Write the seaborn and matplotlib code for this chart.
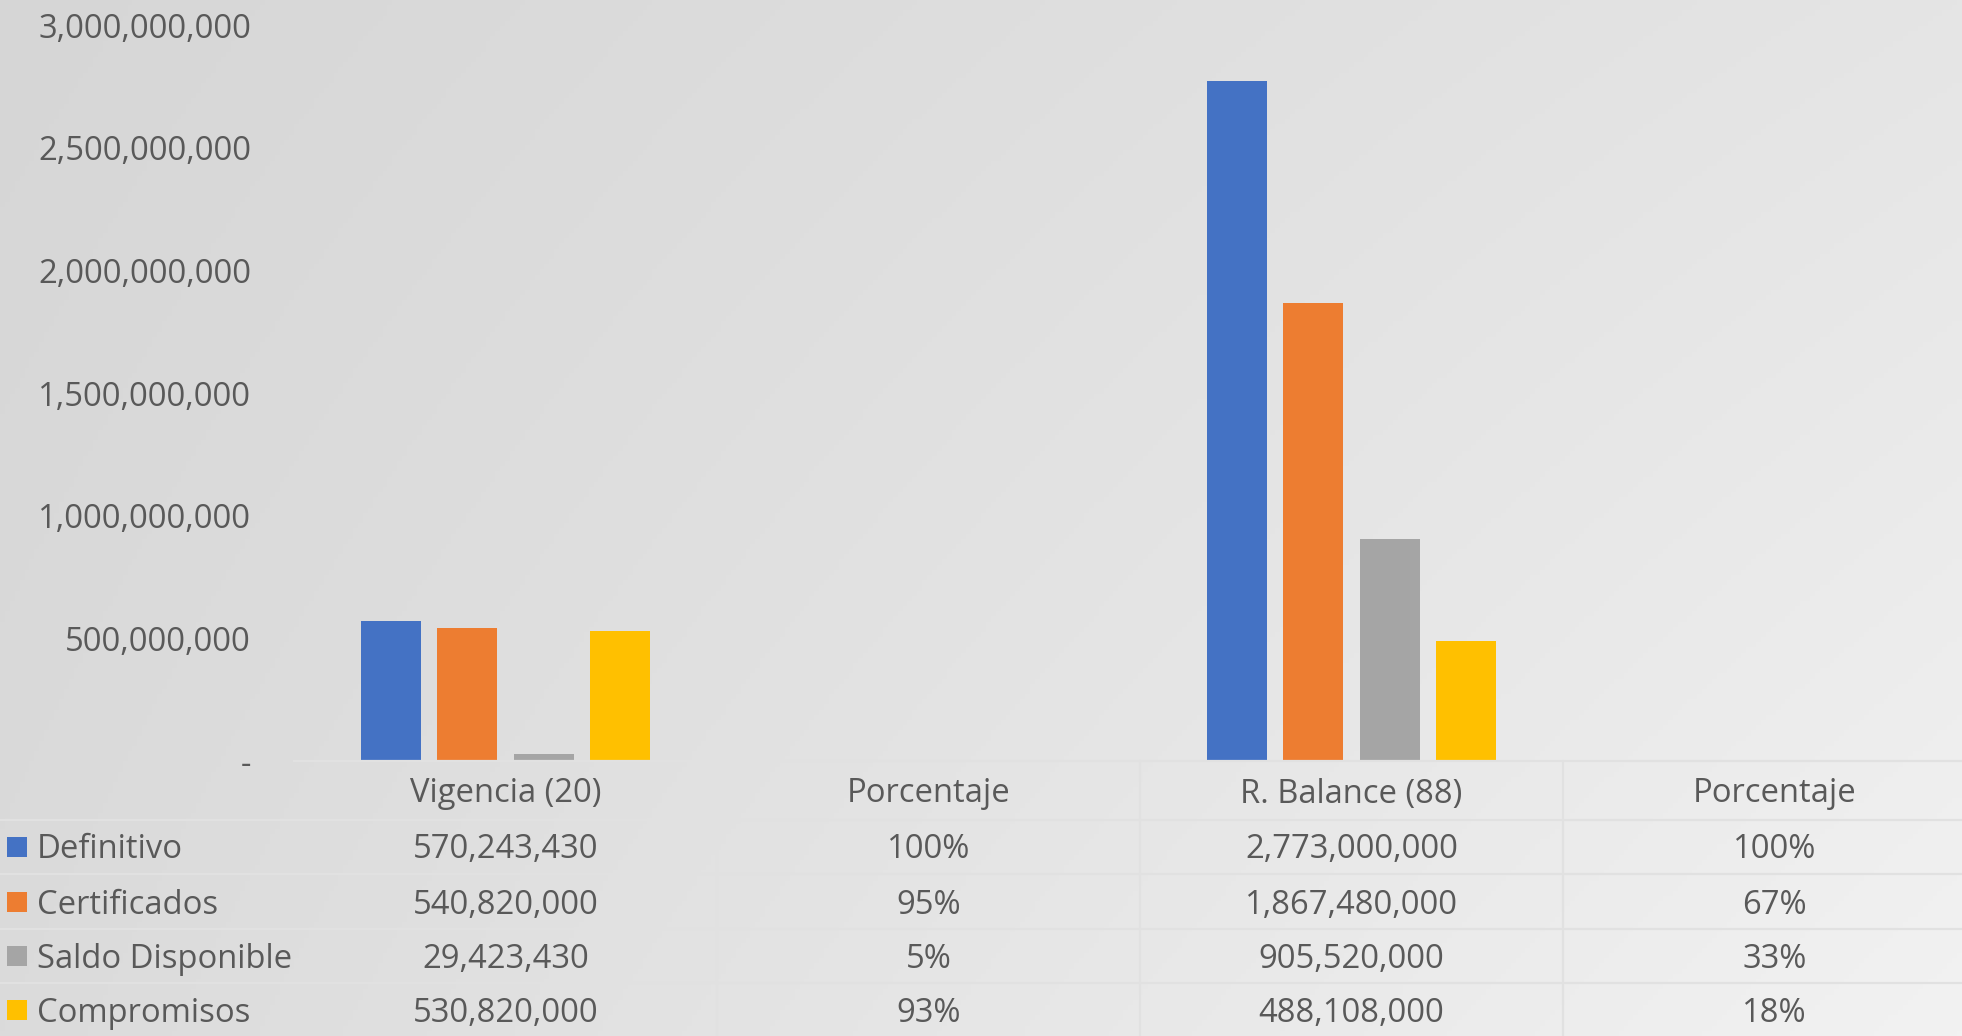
import numpy as np
import pandas as pd
import matplotlib.pyplot as plt
import matplotlib.transforms as mtransforms
from matplotlib.patches import Rectangle
import seaborn as sns

# data
series = ['Definitivo', 'Certificados', 'Saldo Disponible', 'Compromisos']
colors = ['#4472C4', '#ED7D31', '#A5A5A5', '#FFC000']
columns = ['Vigencia (20)', 'Porcentaje', 'R. Balance (88)', 'Porcentaje']
vigencia = [570243430, 540820000, 29423430, 530820000]
vigencia_pct = [1.00, 0.95, 0.05, 0.93]
balance = [2773000000, 1867480000, 905520000, 488108000]
balance_pct = [1.00, 0.67, 0.33, 0.18]
yticks = [0, 500000000, 1000000000, 1500000000, 2000000000, 2500000000, 3000000000]

col_values = [vigencia, vigencia_pct, balance, balance_pct]
col_is_pct = [False, True, False, True]

rows = []
for c, vals in enumerate(col_values):
    for s, v in zip(series, vals):
        rows.append({'col': c, 'serie': s, 'valor': v})
df = pd.DataFrame(rows)

sns.set_theme(style='white')
plt.rcParams['font.family'] = ['Open Sans', 'DejaVu Sans']
txt_color = '#595959'
line_color = '#e1e1e1'
fs = 23.6

W, H = 1962, 1036
fig = plt.figure(figsize=(W / 100, H / 100), dpi=100)

def fx(px):
    return px / W

def fy(py):
    return 1 - py / H

# gradient background
bg = fig.add_axes([0, 0, 1, 1], zorder=-10)
xx, yy = np.meshgrid(np.linspace(0, 1, 400), np.linspace(0, 1, 200))
tl, tr, bl, br = 214, 229, 219, 242
g = (tl * (1 - xx) * (1 - yy) + tr * xx * (1 - yy) + bl * (1 - xx) * yy + br * xx * yy) / 255
bg.imshow(np.dstack([g, g, g]), aspect='auto', extent=[0, 1, 1, 0])
bg.axis('off')

# plot area
left, right_px, top, bottom = 294, 294 + 4 * 423, 25, 761
ax = fig.add_axes([fx(left), fy(bottom), fx(right_px - left), (bottom - top) / H])
ax.set_facecolor('none')
sns.barplot(data=df, x='col', y='valor', hue='serie', order=[0, 1, 2, 3],
            hue_order=series, palette=colors, width=0.722, gap=0.21,
            saturation=1, edgecolor='none', legend=False, ax=ax)
ax.set_xlim(-0.5, 3.5)
ax.set_ylim(0, 3000000000)
ax.set_yticks(yticks)
ax.set_yticklabels(['-' if t == 0 else f'{t:,}' for t in yticks],
                   color=txt_color, fontsize=fs)
ax.tick_params(axis='y', length=0, pad=31)
ax.set_xticks([])
ax.set_xlabel('')
ax.set_ylabel('')
for sp in ['left', 'right', 'top']:
    ax.spines[sp].set_visible(False)
ax.spines['bottom'].set_color(line_color)
ax.spines['bottom'].set_linewidth(1.6)

# data table
trans = mtransforms.blended_transform_factory(ax.transData, fig.transFigure)
header_y = 794
row_y = [850, 905, 959, 1013]
row_lines = [820, 874, 929, 983]

for ly in row_lines:
    fig.add_artist(plt.Line2D([0, 1], [fy(ly), fy(ly)], color=line_color, lw=1.6))
for c in range(3):
    fig.add_artist(plt.Line2D([c + 0.5, c + 0.5], [fy(bottom), 0], color=line_color,
                              lw=1.6, transform=trans))

for c, name in enumerate(columns):
    ax.text(c, fy(header_y), name, transform=trans, ha='center', va='center',
            fontsize=fs, color=txt_color, clip_on=False)
    for r, v in enumerate(col_values[c]):
        label = f'{v:.0%}' if col_is_pct[c] else f'{v:,}'
        ax.text(c, fy(row_y[r]), label, transform=trans, ha='center', va='center',
                fontsize=fs, color=txt_color, clip_on=False)

for r, (s, col) in enumerate(zip(series, colors)):
    fig.add_artist(Rectangle((fx(7), fy(row_y[r] + 7)), fx(20), 20 / H,
                             facecolor=col, edgecolor='none', transform=fig.transFigure))
    fig.text(fx(37), fy(row_y[r]), s, ha='left', va='center', fontsize=fs, color=txt_color)

plt.savefig('out.png', dpi=100)
